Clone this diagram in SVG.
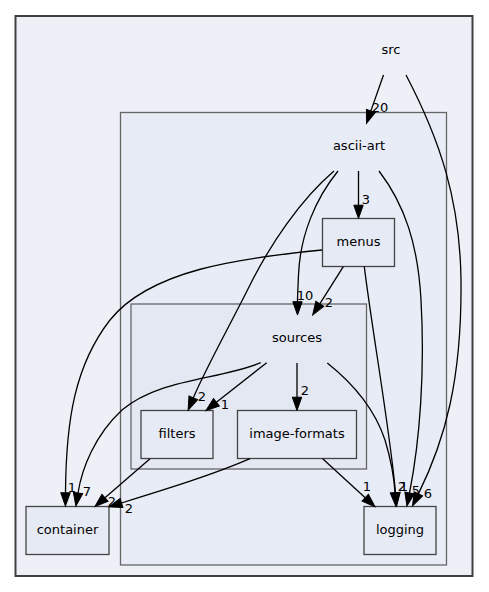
<svg xmlns="http://www.w3.org/2000/svg" width="489" height="592" viewBox="0 0 489 592">
<style>
text{font-family:"DejaVu Sans",Verdana,sans-serif;font-size:13px;fill:#000;text-anchor:middle}
.lbl{font-size:13px}
.node rect{fill:#e6eaf4;stroke:#444;stroke-width:1.3}
.edges path{fill:none;stroke:#000;stroke-width:1.3;marker-end:url(#arr)}
</style>
<defs>
<marker id="arr" markerUnits="userSpaceOnUse" markerWidth="16" markerHeight="12" refX="0" refY="0" viewBox="0 -6 16 12" orient="auto" overflow="visible">
<path d="M0,-4.7 L13.3,0 L0,4.7 z" fill="#000" stroke="#000" stroke-width="1"/>
</marker>
</defs>
<rect width="489" height="592" fill="#fff"/>
<g id="cluster-src">
<rect x="15.5" y="16" width="457" height="560" fill="#edf0f7" stroke="#404040" stroke-width="2"/>
<text x="391" y="54">src</text>
</g>
<g id="cluster-ascii-art">
<rect x="120.5" y="112.5" width="326" height="452.5" fill="#e8ecf6" stroke="#666" stroke-width="1.3"/>
<text x="359" y="150">ascii-art</text>
</g>
<g id="cluster-sources">
<rect x="131" y="304" width="235.5" height="165" fill="#e4e8f3" stroke="#666" stroke-width="1.3"/>
<text x="297" y="342">sources</text>
</g>
<g id="node-menus" class="node">
<rect x="322.5" y="218.5" width="72" height="48"/>
<text x="358.5" y="246">menus</text>
</g>
<g id="node-filters" class="node">
<rect x="141" y="410.5" width="72" height="48"/>
<text x="177" y="438">filters</text>
</g>
<g id="node-image-formats" class="node">
<rect x="237.5" y="410.5" width="119" height="48"/>
<text x="297" y="438">image-formats</text>
</g>
<g id="node-container" class="node">
<rect x="26" y="506.5" width="83" height="48"/>
<text x="67.5" y="534">container</text>
</g>
<g id="node-logging" class="node">
<rect x="364" y="506.5" width="72" height="48"/>
<text x="400" y="534">logging</text>
</g>
<g id="edges" class="edges">
<path d="M383.5,75 L370.9,110.9"/>
<path d="M406,75 C440,140 460,200 461,280 C462,380 445,440 418.4,493.9"/>
<path d="M358.5,171 L358.5,205.2"/>
<path d="M338,171 C316,198 300,235 298.5,275 C298,288 297.5,295 297.5,301.7"/>
<path d="M334,171 C300,200 270,245 250,285 C230,325 205,370 193.3,397.9"/>
<path d="M379,171 C405,205 418,245 421,300 C425,370 420,440 409.5,493"/>
<path d="M343.3,266.7 L319.8,303.8"/>
<path d="M322,250 C240,258 150,270 110,320 C75,365 66,420 65.5,492.7"/>
<path d="M364.3,266.7 C372,330 390,430 395.5,492.8"/>
<path d="M266.7,362.7 L216.4,402.3"/>
<path d="M297,363 L297,397.2"/>
<path d="M260.7,362.7 C220,380 160,378 122,410 C95,435 82,468 78,493"/>
<path d="M327.3,363 C355,385 375,410 385,440 C391,460 394,475 395,492.8"/>
<path d="M150,458.7 L105,497.8"/>
<path d="M250,458.7 C215,474 170,488 121.5,503"/>
<path d="M322.7,458.7 L365.2,497.7"/>
<text class="lbl" x="380" y="112">20</text>
<text class="lbl" x="366" y="204">3</text>
<text class="lbl" x="305" y="300">10</text>
<text class="lbl" x="329" y="307">2</text>
<text class="lbl" x="202" y="401">2</text>
<text class="lbl" x="225" y="409">1</text>
<text class="lbl" x="305" y="395">2</text>
<text class="lbl" x="72" y="492">1</text>
<text class="lbl" x="87" y="496">7</text>
<text class="lbl" x="112" y="506">2</text>
<text class="lbl" x="129" y="513">2</text>
<text class="lbl" x="367" y="491">1</text>
<text class="lbl" x="402" y="491">2</text>
<text class="lbl" x="404" y="491">1</text>
<text class="lbl" x="416" y="495">5</text>
<text class="lbl" x="428" y="498">6</text>
</g>
</svg>
